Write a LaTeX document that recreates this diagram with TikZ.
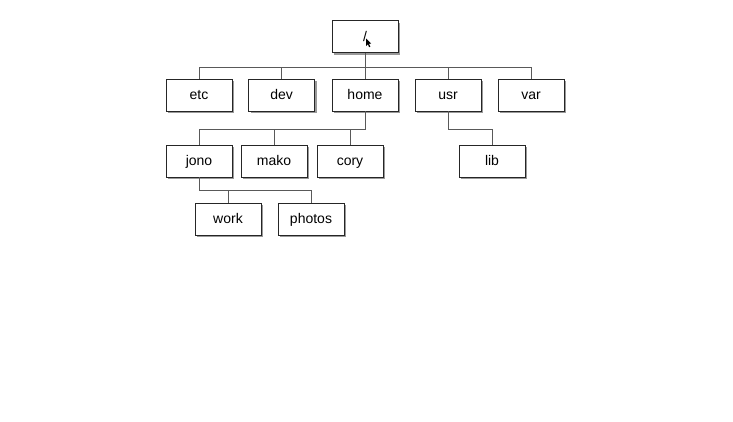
\documentclass[tikz,border=0pt]{standalone}
\usepackage{fontspec}
\setmainfont{Liberation Sans}
\usetikzlibrary{shadows}
\begin{document}
\begin{tikzpicture}[x=1bp,y=-1bp,
  dirbox/.style={draw=black!85, line width=0.8bp, fill=white, minimum width=66bp, minimum height=32bp, inner sep=0pt,
    text height=11bp, text depth=2bp,
    font=\fontsize{14bp}{16bp}\selectfont,
    drop shadow={shadow xshift=2bp, shadow yshift=-2bp, fill=black!40, opacity=1}},
  link/.style={draw=black!65, line width=0.7bp}]
\useasboundingbox (0,0) rectangle (733,421);
\node[dirbox] (root) at (365,36.5) {/};
\node[dirbox] (etc) at (199,95) {etc};
\node[dirbox] (dev) at (281.7,95) {dev};
\node[dirbox] (home) at (365,95) {home};
\node[dirbox] (usr) at (448,95) {usr};
\node[dirbox] (var) at (531,95) {var};
\node[dirbox] (jono) at (199,161) {jono};
\node[dirbox] (mako) at (274,161) {mako};
\node[dirbox] (cory) at (350,161) {cory};
\node[dirbox] (lib) at (492,161) {lib};
\node[dirbox] (work) at (228,219) {work};
\node[dirbox] (photos) at (311,219) {photos};
% root level
\coordinate (r1) at (199,67.3);
\coordinate (r2) at (531,67.3);
\draw[link] (root.south) -- (home.north);
\draw[link] (etc.north) |- (r1) -- (r2) -- (var.north);
\draw[link] (dev.north) -- (dev.north |- r1);
\draw[link] (usr.north) -- (usr.north |- r1);
% home level
\coordinate (h1) at (365,129.3);
\draw[link] (home.south) -- (h1) -| (jono.north);
\draw[link] (mako.north) -- (mako.north |- h1);
\draw[link] (cory.north) -- (cory.north |- h1);
% usr level
\coordinate (u1) at (448,129.3);
\draw[link] (usr.south) -- (u1) -| (lib.north);
% jono level
\coordinate (j1) at (199,190.7);
\draw[link] (jono.south) -- (j1) -| (photos.north);
\draw[link] (work.north) -- (work.north |- j1);
% cursor
\fill[black] (366,38.5) -- (366,46) -- (367.8,44.3) -- (369.2,47.2) -- (370.3,46.6) -- (368.9,43.8) -- (371.2,43.6) -- cycle;
\end{tikzpicture}
\end{document}
